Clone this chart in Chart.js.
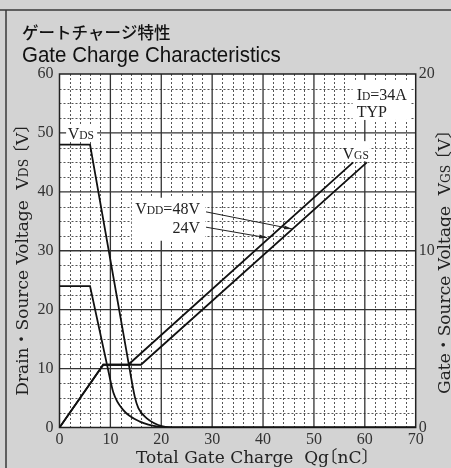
<!DOCTYPE html>
<html>
<head>
<meta charset="utf-8">
<script src="https://cdn.jsdelivr.net/npm/chart.js@4.4.1/dist/chart.umd.min.js"></script>
<style>
  html, body { margin: 0; padding: 0; background: #d3d3d3; overflow: hidden; }
</style>
</head>
<body>
<canvas id="c" width="451" height="468"></canvas>
<script>
// Qg [nC] against VDS (left axis) and VGS (right axis), ID = 34A typ.
var vds48Q = [0, 6.0, 13.6, 14.8, 15.5, 17.1, 20.3, 23, 70];
var vds48V = [48, 48, 10.8, 5.2, 3.3, 1.6, 0.2, 0, 0];
var vds24Q = [0, 6.0, 9.3, 10.6, 12.5, 15.8, 19.7, 22, 70];
var vds24V = [24, 24, 10.8, 5.9, 3.0, 1.0, 0.1, 0, 0];
var knee = 2; // straight drop up to this index, curved tail after it

var vgs48Q = [0, 8.6, 16.0, 60.4];
var vgs48V = [0, 3.55, 3.55, 15];
var vgs24Q = [0, 8.6, 13.5, 57.7];
var vgs24V = [0, 3.55, 3.55, 15];

var serif = "'Liberation Serif', 'Noto Sans CJK JP', serif";
var wide = "'DejaVu Serif', 'Noto Sans CJK JP', serif";

function pts(qs, vs, from, to) {
  var out = [];
  for (var i = from; i < to; i++) out.push({ x: qs[i], y: vs[i] });
  return out;
}

function line(data, axis, smooth) {
  return {
    data: data, yAxisID: axis,
    borderColor: '#111', borderWidth: 1.8, pointRadius: 0,
    fill: false, tension: 0,
    cubicInterpolationMode: smooth ? 'monotone' : 'default'
  };
}

// parts: [text, relative size, advance in em (optional), shift in em (optional)]
function rich(ctx, parts, x, y, size, family, align) {
  var w = 0, list = [];
  parts.forEach(function (p) {
    var fs = size * (p[1] || 1);
    ctx.font = fs + 'px ' + family;
    var adv = p[2] != null ? p[2] * fs : ctx.measureText(p[0]).width;
    list.push({ t: p[0], fs: fs, adv: adv, dx: (p[3] || 0) * fs });
    w += adv;
  });
  var cx = align === 'right' ? x - w : (align === 'center' ? x - w / 2 : x);
  ctx.textAlign = 'left';
  ctx.textBaseline = 'alphabetic';
  list.forEach(function (it) {
    ctx.font = it.fs + 'px ' + family;
    ctx.fillText(it.t, cx + it.dx, y);
    cx += it.adv;
  });
}

var frame = {
  id: 'frame',
  beforeDraw: function (chart) {
    var ctx = chart.ctx, a = chart.chartArea;
    var sx = chart.scales.x, sy = chart.scales.y;
    ctx.save();
    ctx.fillStyle = '#d3d3d3';
    ctx.fillRect(0, 0, chart.width, chart.height);
    ctx.strokeStyle = '#3a3a3a';
    ctx.lineWidth = 1.5;
    ctx.beginPath();
    ctx.moveTo(0, 10); ctx.lineTo(chart.width, 10);
    ctx.moveTo(6, 10); ctx.lineTo(6, chart.height);
    ctx.stroke();

    ctx.fillStyle = '#fff';
    ctx.fillRect(a.left, a.top, a.right - a.left, a.bottom - a.top);

    // minor grid, dashed
    ctx.lineWidth = 1;
    ctx.strokeStyle = '#555';
    ctx.setLineDash([2, 2]);
    ctx.beginPath();
    for (var q = 2; q < 70; q += 2) {
      if (q % 10 === 0) continue;
      var px = Math.round(sx.getPixelForValue(q)) + 0.5;
      ctx.moveTo(px, a.top); ctx.lineTo(px, a.bottom);
    }
    for (var v = 2.5; v < 60; v += 2.5) {
      if (v % 10 === 0) continue;
      var py = Math.round(sy.getPixelForValue(v)) + 0.5;
      ctx.moveTo(a.left, py); ctx.lineTo(a.right, py);
    }
    ctx.stroke();
    ctx.setLineDash([]);

    // major grid
    ctx.strokeStyle = '#333';
    ctx.lineWidth = 1.3;
    ctx.beginPath();
    for (q = 10; q < 70; q += 10) {
      px = sx.getPixelForValue(q);
      ctx.moveTo(px, a.top); ctx.lineTo(px, a.bottom);
    }
    for (v = 10; v < 60; v += 10) {
      py = sy.getPixelForValue(v);
      ctx.moveTo(a.left, py); ctx.lineTo(a.right, py);
    }
    ctx.stroke();
    ctx.strokeStyle = '#222';
    ctx.lineWidth = 1.5;
    ctx.strokeRect(a.left, a.top, a.right - a.left, a.bottom - a.top);
    ctx.restore();
  },

  afterDraw: function (chart) {
    var ctx = chart.ctx;
    var sx = chart.scales.x, sy = chart.scales.y;
    function X(q) { return sx.getPixelForValue(q); }
    function Y(v) { return sy.getPixelForValue(v); }
    function box(q0, q1, v0, v1) {
      ctx.fillStyle = '#fff';
      ctx.fillRect(X(q0), Y(v1), X(q1) - X(q0), Y(v0) - Y(v1));
    }
    function arrow(q0, v0, q1, v1) {
      var x0 = X(q0), y0 = Y(v0), x1 = X(q1), y1 = Y(v1);
      var ang = Math.atan2(y1 - y0, x1 - x0);
      ctx.beginPath();
      ctx.moveTo(x0, y0); ctx.lineTo(x1, y1);
      ctx.stroke();
      ctx.beginPath();
      ctx.moveTo(x1, y1);
      ctx.lineTo(x1 - 8 * Math.cos(ang) + 2 * Math.sin(ang), y1 - 8 * Math.sin(ang) - 2 * Math.cos(ang));
      ctx.lineTo(x1 - 8 * Math.cos(ang) - 2 * Math.sin(ang), y1 - 8 * Math.sin(ang) + 2 * Math.cos(ang));
      ctx.closePath();
      ctx.fill();
    }
    var fs = 16, mid = 0.36 * fs;
    ctx.save();

    // label boxes
    box(1.3, 7.4, 48.6, 51.2);
    box(57.6, 68.9, 52.2, 59.0);
    box(55.7, 61.0, 45.2, 48.6);
    box(14.2, 28.6, 31.7, 39.0);

    ctx.fillStyle = '#222';
    rich(ctx, [['V'], ['DS', 0.72]], X(4.2), Y(50) + mid, fs, serif, 'center');
    rich(ctx, [['I'], ['D', 0.72], ['=34A']], X(58.4), Y(56.6) + mid, fs, serif, 'left');
    rich(ctx, [['TYP']], X(58.4), Y(53.7) + mid, fs, serif, 'left');
    rich(ctx, [['V'], ['GS', 0.72]], X(58.2), Y(46.6) + mid, fs, serif, 'center');
    rich(ctx, [['V'], ['DD', 0.72], ['=48V']], X(27.6), Y(37.3) + mid, fs, serif, 'right');
    rich(ctx, [['24V']], X(27.6), Y(34.0) + mid, fs, serif, 'right');

    ctx.strokeStyle = '#222';
    ctx.lineWidth = 1;
    arrow(28.8, 36.6, 45.7, 33.7);
    arrow(28.8, 34.0, 40.8, 32.2);

    // headings
    ctx.fillStyle = '#111';
    ctx.textAlign = 'left';
    ctx.textBaseline = 'alphabetic';
    ctx.font = "500 16.5px 'Noto Sans CJK JP'";
    ctx.fillText('ゲートチャージ特性', 22, 39);
    ctx.save();
    ctx.translate(22, 62);
    ctx.scale(1, 1.12);
    ctx.font = "20.5px 'Liberation Sans', Arial, sans-serif";
    ctx.fillText('Gate Charge Characteristics', 0, 0);
    ctx.restore();

    // axis titles
    ctx.fillStyle = '#222';
    var tf = 17;
    rich(ctx, [['Total Gate Charge  Q'], ['g'], ['〔', 1, 0.5, -0.5], ['nC'], ['〕', 1, 0.5]],
      253, 463, tf, wide, 'center');

    ctx.save();
    ctx.translate(28, 260);
    ctx.rotate(-Math.PI / 2);
    rich(ctx, [['Drain・Source Voltage  V'], ['DS', 0.72], [' '], ['〔', 1, 0.5, -0.5], ['V'], ['〕', 1, 0.5]],
      0, 0, tf, wide, 'center');
    ctx.restore();

    ctx.save();
    ctx.translate(450, 262);
    ctx.rotate(-Math.PI / 2);
    rich(ctx, [['Gate・Source Voltage  V'], ['GS', 0.72], [' '], ['〔', 1, 0.5, -0.5], ['V'], ['〕', 1, 0.5]],
      0, 0, tf, wide, 'center');
    ctx.restore();

    ctx.restore();
  }
};

var tickFont = { family: serif, size: 16 };

new Chart(document.getElementById('c'), {
  type: 'line',
  data: {
    datasets: [
      line(pts(vds48Q, vds48V, 0, knee + 1), 'y', false),
      line(pts(vds48Q, vds48V, knee, vds48Q.length), 'y', true),
      line(pts(vds24Q, vds24V, 0, knee + 1), 'y', false),
      line(pts(vds24Q, vds24V, knee, vds24Q.length), 'y', true),
      line(pts(vgs48Q, vgs48V, 0, vgs48Q.length), 'y2', false),
      line(pts(vgs24Q, vgs24V, 0, vgs24Q.length), 'y2', false)
    ]
  },
  options: {
    responsive: false,
    animation: false,
    layout: { padding: { top: 74, left: 0, right: 0, bottom: 0 } },
    plugins: { legend: { display: false }, title: { display: false }, tooltip: { enabled: false } },
    scales: {
      x: {
        type: 'linear', min: 0, max: 70,
        grid: { display: false, drawTicks: false }, border: { display: false },
        ticks: { stepSize: 10, font: tickFont, color: '#333', padding: 3, maxRotation: 0 },
        afterFit: function (s) { s.height = 40.5; }
      },
      y: {
        type: 'linear', position: 'left', min: 0, max: 60,
        grid: { display: false, drawTicks: false }, border: { display: false },
        ticks: { stepSize: 10, font: tickFont, color: '#333', padding: 6 },
        afterFit: function (s) { s.width = 59.5; }
      },
      y2: {
        type: 'linear', position: 'right', min: 0, max: 20,
        grid: { display: false, drawTicks: false }, border: { display: false },
        ticks: { stepSize: 10, font: tickFont, color: '#333', padding: 3 },
        afterFit: function (s) { s.width = 35.3; }
      }
    }
  },
  plugins: [frame]
});
</script>
</body>
</html>
